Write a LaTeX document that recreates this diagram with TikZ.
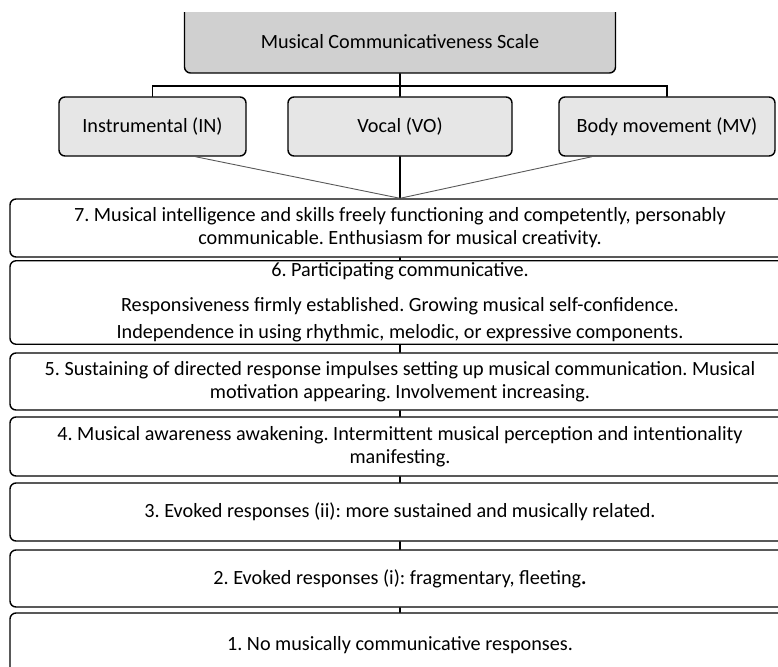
\documentclass[tikz,border=0pt]{standalone}
\usepackage{fontspec}
\setmainfont{Carlito}
\usepackage{tikz}
\definecolor{headgray}{HTML}{D0D0D0}
\definecolor{subgray}{HTML}{E6E6E6}
\frenchspacing

\begin{document}
\begin{tikzpicture}[x=1pt, y=-1pt, line cap=round, line width=1.4pt]

        \tikzset{level/.style = {shape=rectangle, draw, rounded corners=6pt, minimum width=780pt, minimum height=58pt, align=center, inner sep=2pt, font=\fontsize{20.2}{23}\selectfont}}
        \tikzset{part/.style = {level, fill=subgray, minimum height=59pt}}
        \tikzset{edge/.style = {line width=1.2pt}}
        \tikzset{side edge/.style = {draw=black!65, line width=0.9pt}}

        \useasboundingbox (0,0) rectangle (778,666);
        \clip (0,13) rectangle (778,666);

        % scale and its three parts
        \node[level, fill=headgray, minimum width=431pt, minimum height=68pt] (MCS) at (400,39) {\raisebox{-3pt}[\height][\depth]{Musical Communicativeness Scale}};
        \node[part, minimum width=187pt] (IN) at (152.5,126.5) {Instrumental (IN)};
        \node[part, minimum width=224pt] (VO) at (400,126.5) {Vocal (VO)};
        \node[part, minimum width=216pt] (MV) at (667,126.5) {Body movement (MV)};

        % levels
        \node[level] (l7) at (400,228) {7. Musical intelligence and skills freely functioning and competently, personably\\communicable. Enthusiasm for musical creativity.};
        \node[level, minimum height=81pt] (l6) at (400,302.5) {6. Participating communicative.\\[12pt]Responsiveness firmly established. Growing musical self-confidence.\\[4pt]Independence in using rhythmic, melodic, or expressive components.};
        \node[level, minimum height=57pt] (l5) at (400,381.5) {5. Sustaining of directed response impulses setting up musical communication. Musical\\motivation appearing. Involvement increasing.};
        \node[level, minimum height=59pt] (l4) at (400,446.5) {4. Musical awareness awakening. Intermittent musical perception and intentionality\\manifesting.};
        \node[level] (l3) at (400,512) {3. Evoked responses (ii): more sustained and musically related.};
        \node[level, minimum height=57pt] (l2) at (400,578.5) {2. Evoked responses (i): fragmentary, fleeting\textbf{.}};
        \node[level, minimum height=64pt] (l1) at (400,645) {1. No musically communicative responses.};

        \coordinate (bus) at (400,86);
        \draw[edge] (MCS.south) -- (bus);
        \draw[edge] (IN.north) |- (bus) -| (MV.north);
        \draw[edge] (bus) -- (VO.north);

        \draw[edge] (VO.south) -- (l7.north);
        \draw[side edge] ([xshift=43pt]IN.south) -- (l7.north);
        \draw[side edge] ([xshift=-75pt]MV.south) -- (l7.north);

        \foreach \a/\b in {7/6,6/5,5/4,4/3,3/2,2/1}
            \draw[edge] (l\a.south) -- (l\b.north);
\end{tikzpicture}
\end{document}
